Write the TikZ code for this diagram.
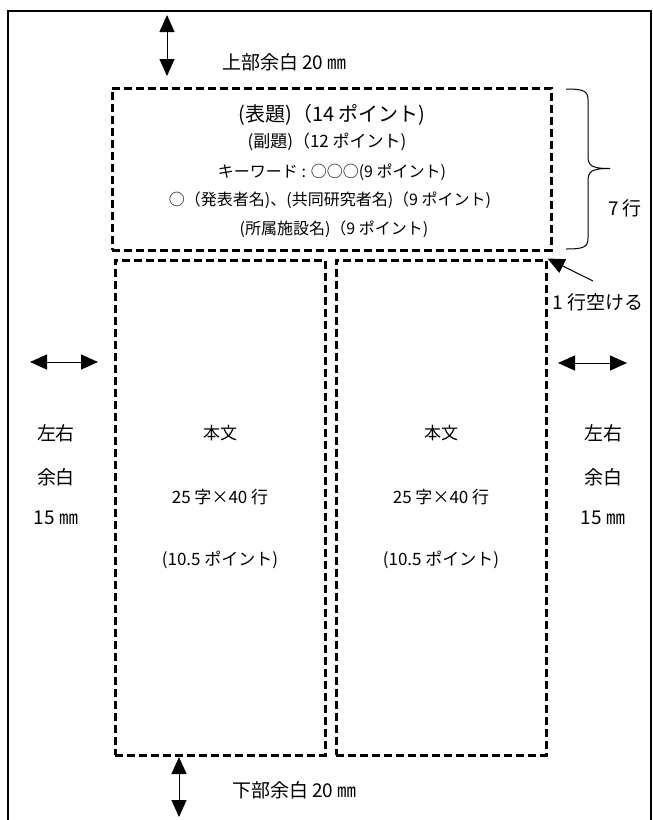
\documentclass[tikz,border=0pt]{standalone}
\usepackage{fontspec}
\setmainfont{Noto Sans CJK JP}
\usetikzlibrary{arrows.meta}
\begin{document}
\begin{tikzpicture}[x=1pt,y=-1pt,
  frame/.style={line width=2.6pt},
  dbox/.style={draw, rectangle, inner sep=0pt, line width=3pt, dash pattern=on 8pt off 4pt},
  dim/.style={line width=1pt, {Triangle[length=17pt,width=15pt]}-{Triangle[length=17pt,width=15pt]}},
  ptr/.style={line width=1pt, -{Triangle[length=17pt,width=15pt]}},
  lbl/.style={inner sep=0pt, font=\fontsize{19}{22}\selectfont},
  ttl/.style={inner sep=0pt, font=\fontsize{20}{24}\selectfont},
  sub/.style={inner sep=0pt, font=\fontsize{17}{20}\selectfont},
  small/.style={inner sep=0pt, font=\fontsize{16}{19}\selectfont},
  body/.style={inner sep=0pt, font=\fontsize{17}{20}\selectfont}]
\useasboundingbox (0,0) rectangle (653,820);
\fill[white] (0,0) rectangle (653,820);
% outer frame
\draw[frame] (8,820) -- (8,11) -- (651,11) -- (651,820);
% boxes
\node[dbox, minimum width=439pt, minimum height=162pt] (head) at (331.5,169) {};
\node[dbox, minimum width=210pt, minimum height=495pt] (colL) at (220,507.5) {};
\node[dbox, minimum width=210pt, minimum height=495pt] (colR) at (441,507.5) {};
% header texts
\node[ttl] (t1) at (332,115) {(表題)（14 ポイント)};
\node[sub] (t2) at (327,142) {(副題)（12 ポイント)};
\node[small] (t3) at (332,172) {キーワード : ○○○(9 ポイント)};
\node[small] (t4) at (330,200) {○（発表者名)、(共同研究者名)（9 ポイント)};
\node[small] (t5) at (334,229) {(所属施設名)（9 ポイント)};
% column texts
\node[body] (bL1) at (220,433) {本文};
\node[body] (bL2) at (220,497) {25 字×40 行};
\node[body] (bL3) at (220,560) {(10.5 ポイント)};
\node[body] (bR1) at (441,433) {本文};
\node[body] (bR2) at (441,497) {25 字×40 行};
\node[body] (bR3) at (441,560) {(10.5 ポイント)};
% top margin
\coordinate (ta) at (167,15);
\coordinate (tb) at (167,76);
\draw[dim] (ta) -- (tb);
\node[lbl, anchor=west] (top) at (222,62) {上部余白 20 ㎜};
% bottom margin
\coordinate (ba) at (179,757);
\coordinate (bb) at (179,817);
\draw[dim] (ba) -- (bb);
\node[lbl, anchor=west] (bot) at (232,790) {下部余白 20 ㎜};
% left margin
\coordinate (la) at (30,362);
\coordinate (lb) at (98,362);
\draw[dim] (la) -- (lb);
\node[lbl] (l1) at (56,433) {左右};
\node[lbl] (l2) at (56,477) {余白};
\node[lbl] (l3) at (56,518) {15 ㎜};
% right margin
\coordinate (ra) at (558,363);
\coordinate (rb) at (627,363);
\draw[dim] (ra) -- (rb);
\node[lbl] (r1) at (603,433) {左右};
\node[lbl] (r2) at (603,477) {余白};
\node[lbl] (r3) at (603,518) {15 ㎜};
% brace
\coordinate (bt) at (566,89);
\coordinate (bm) at (610,168.5);
\coordinate (bz) at (566,249);
\draw[line width=1pt] (bt) .. controls (584,89) and (588,91) .. (588,100) -- (588,156)
  .. controls (588,166) and (592,168.5) .. (bm)
  .. controls (592,168.5) and (588,171) .. (588,181) -- (588,238)
  .. controls (588,247) and (584,249) .. (bz);
\node[lbl] (seven) at (625,208) {7 行};
% one line blank
\coordinate (pa) at (593,281);
\draw[ptr] (pa) -- (colR.north east);
\node[lbl] (blank) at (598,302) {1 行空ける};
\end{tikzpicture}
\end{document}
